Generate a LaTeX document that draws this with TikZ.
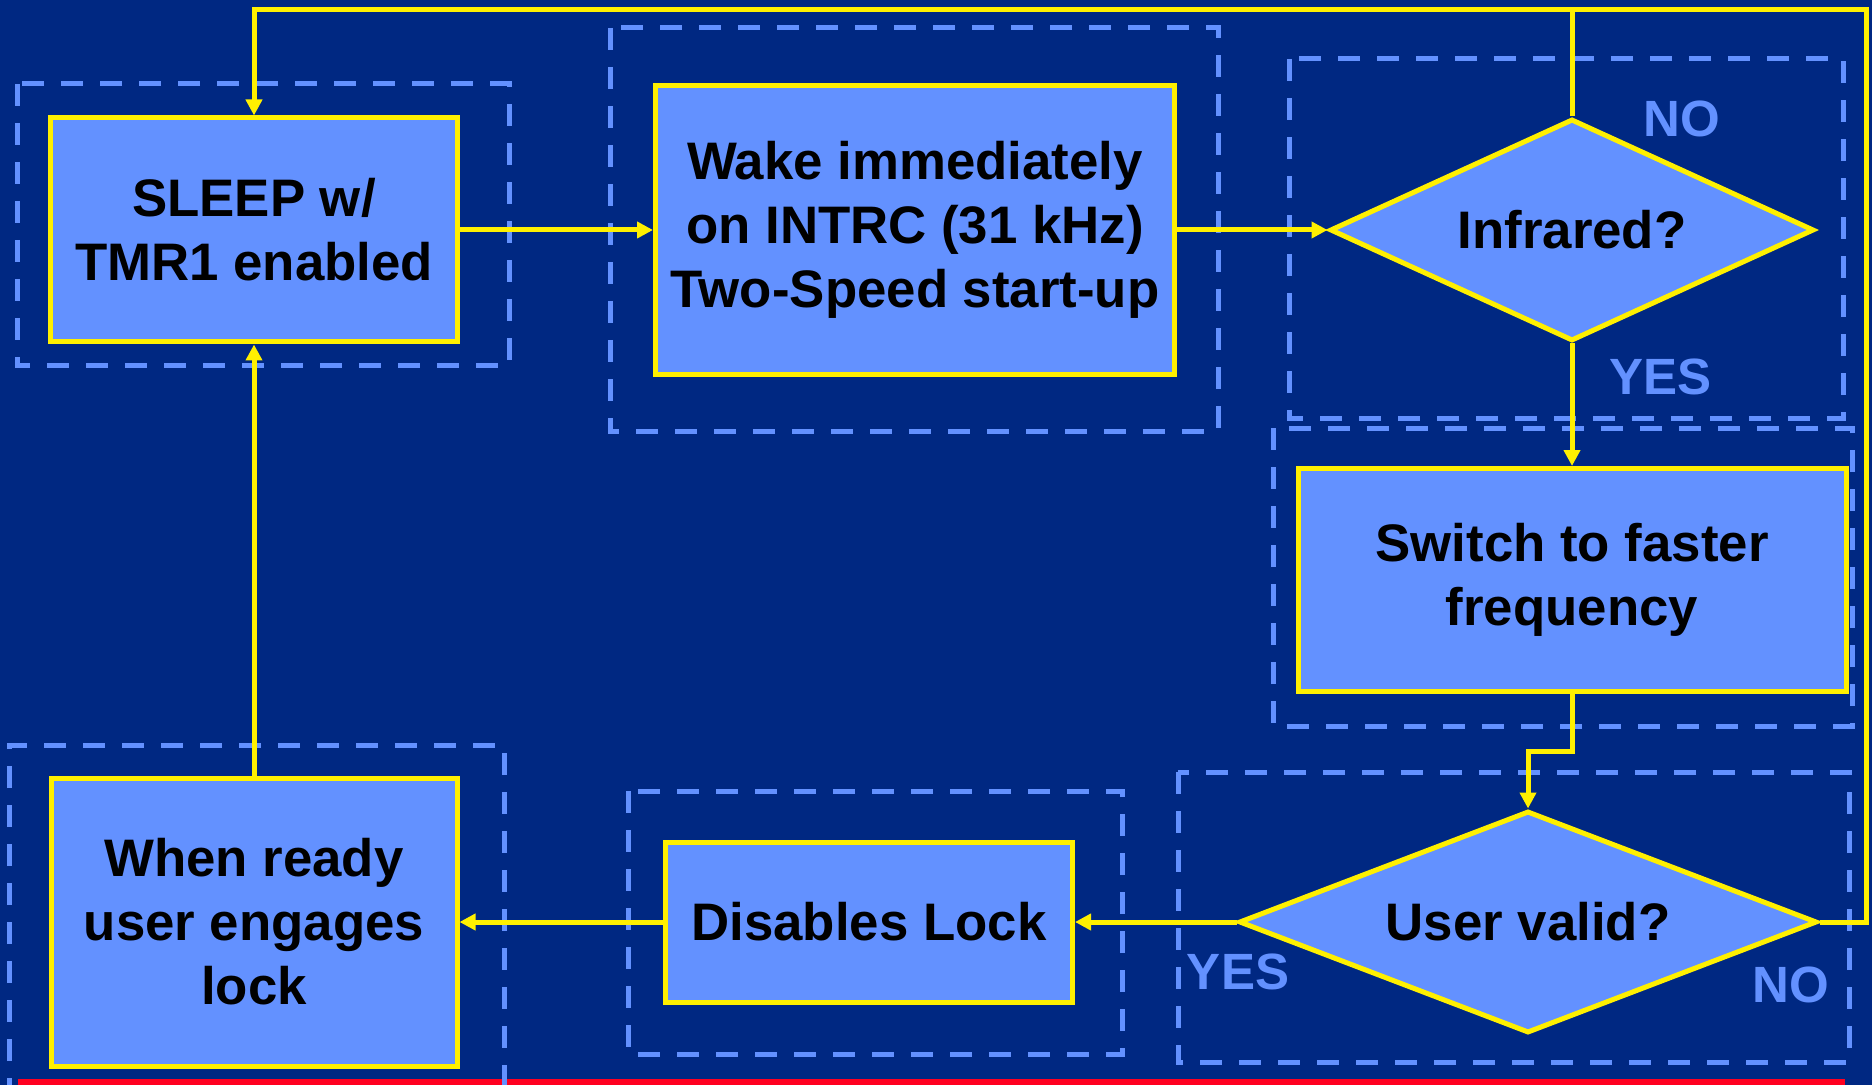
\documentclass[tikz,border=0pt]{standalone}
\usepackage{fontspec}
\setmainfont{Liberation Sans}
\usetikzlibrary{shapes.geometric,arrows.meta}
\definecolor{bgblue}{RGB}{0,40,130}
\definecolor{lightblue}{RGB}{99,145,255}
\definecolor{flowyellow}{RGB}{255,240,0}
\definecolor{barred}{RGB}{255,0,32}
\begin{document}
\begin{tikzpicture}[x=0.5pt,y=-0.5pt,
  every node/.style={font=\fontsize{26.4}{32}\selectfont\bfseries},
  procbox/.style={draw=flowyellow, fill=lightblue, line width=2.5pt, align=center, inner sep=0pt},
  decision/.style={diamond, draw=flowyellow, fill=lightblue, line width=2.5pt, inner sep=0pt},
  group/.style={draw=lightblue, line width=2.5pt, dash pattern=on 11pt off 8.5pt},
  flow/.style={draw=flowyellow, line width=2.5pt, -{Triangle[length=8pt,width=8pt]}},
  plainflow/.style={draw=flowyellow, line width=2.5pt},
  branch/.style={text=lightblue, font=\fontsize{25.5}{30}\selectfont\bfseries},
]
% page and background
\fill[bgblue] (0,0) rectangle (1872,1085);
\useasboundingbox (0,0) rectangle (1872,1085);
\fill[barred] (18,1079) rectangle (1845,1085);

% dashed group frames
\draw[group] (17,84) rectangle (509,366);
\draw[group] (610,28) rectangle (1218,431);
\draw[group] (1289,59) rectangle (1843,418);
\draw[group] (1273,428) rectangle (1852,726);
\draw[group] (1178,772) rectangle (1849,1062);
\draw[group] (628,791) rectangle (1122,1054);
\draw[group] (9,1100) -- (9,745) -- (504,745) -- (504,1100);

% routing helpers
\coordinate (top) at (0,10);
\coordinate (rightx) at (1866,0);
\coordinate (jog) at (0,751);

% process steps and decisions
\node[procbox, minimum width=203.5pt, minimum height=112pt] (sleep) at (254,230) {SLEEP w/\\TMR1 enabled};
\node[procbox, minimum width=259.5pt, minimum height=144.5pt] (wake) at (915,230) {Wake immediately\\on INTRC (31 kHz)\\Two-Speed start-up};
\node[decision, shape aspect=2.2, minimum width=242pt, minimum height=111pt] (ir) at (1572,230) {Infrared?};
\node[procbox, minimum width=274pt, minimum height=111.5pt] (sw) at (1572,580) {Switch to faster\\frequency};
\node[decision, shape aspect=2.55, minimum width=289pt, minimum height=111pt] (uv) at (1528,922) {User valid?};
\node[procbox, minimum width=203.5pt, minimum height=80pt] (dis) at (869,922) {Disables Lock};
\node[procbox, minimum width=203pt, minimum height=144pt] (ready) at (254,922) {When ready\\user engages\\lock};

% branch labels
\node[branch] (irno) at (1682,119) {NO};
\node[branch] (iryes) at (1660,377) {YES};
\node[branch] (uvyes) at (1238,972) {YES};
\node[branch] (uvno) at (1791,985) {NO};

% connectors
\draw[flow] (sleep.east) -- (wake.west);
\draw[flow] (wake.east) -- (ir.west);
\draw[flow] (ir.south) -- (sw.north);
\draw[flow] (sw.south) -- (sw.south |- jog) -| (uv.north);
\draw[flow] (uv.west) -- (dis.east);
\draw[flow] (dis.west) -- (ready.east);
\draw[flow] (ready.north) -- (sleep.south);
\draw[flow] (ir.north) -- (ir.north |- top) -- (sleep.north |- top) -- (sleep.north);
\draw[plainflow] (uv.east) -- (rightx |- uv.east) -- (rightx |- top) -- (ir.north |- top);
\end{tikzpicture}
\end{document}
